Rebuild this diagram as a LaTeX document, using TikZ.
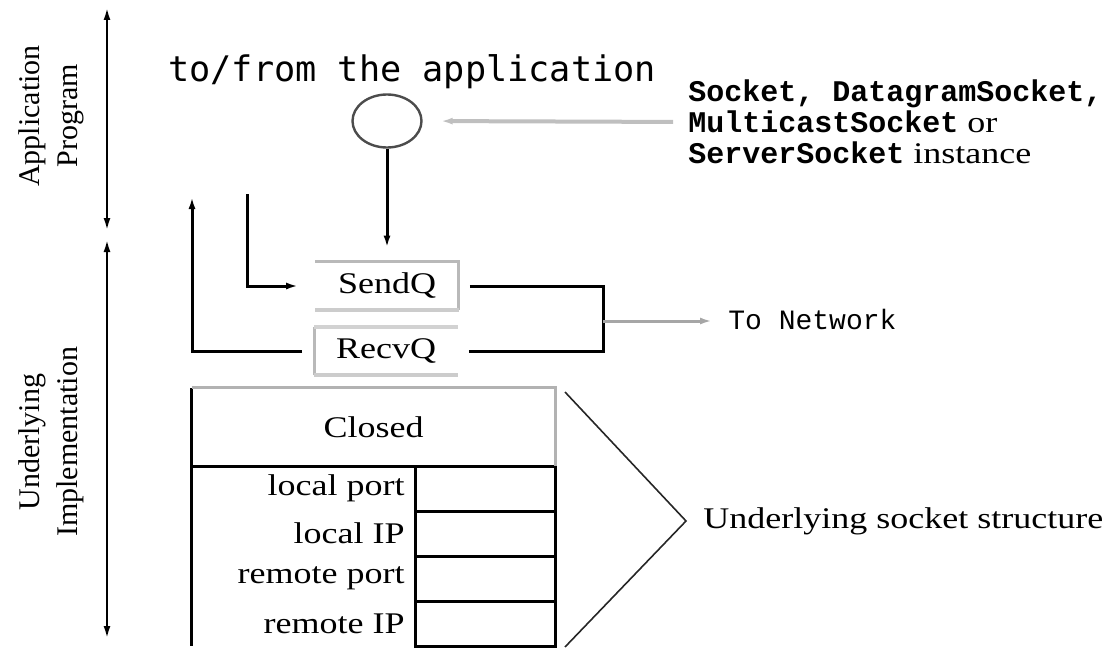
\documentclass[tikz,border=0pt]{standalone}
\usepackage{fontspec}
\setmainfont{Liberation Serif}[FakeStretch=1.2]
\setmonofont{Liberation Mono}
\newfontfamily\sidefont{Liberation Serif}
\newfontfamily\appfont{DejaVu Sans Mono}
\usetikzlibrary{arrows.meta, shapes.geometric, positioning}

\begin{document}
\begin{tikzpicture}[x=0.5pt, y=-0.5pt, >={Latex[length=6pt,width=3.5pt]},
    wire/.style={line width=1.5pt},
    qbox/.style={minimum width=71.5pt, minimum height=24pt, inner sep=0pt, font=\fontsize{15}{18}\selectfont},
    cell/.style={draw, line width=1.5pt, minimum width=70pt, minimum height=22.5pt, inner sep=0pt, outer sep=0pt},
    field/.style={inner sep=0pt, font=\fontsize{15}{18}\selectfont},
    side/.style={rotate=90, align=center, inner sep=0pt, font=\sidefont\fontsize{15}{19}\selectfont}]
      \useasboundingbox (0,0) rectangle (1117,647);

      % nodes %
      \node[side] (apptag) at (51,116) {Application\\Program};
      \node[side] (impltag) at (51,442) {Underlying\\Implementation};
      \node[anchor=base west, inner sep=0pt, font=\appfont\fontsize{17.6}{20}\selectfont] (tofrom) at (168,82) {to/from the application};
      \node[ellipse, draw=gray!60!black, line width=1.2pt, minimum width=34.5pt, minimum height=26.5pt] (app) at (387,121) {};
      \node[anchor=west, inner sep=0pt, align=left, font=\fontsize{15}{15.5}\selectfont] (sock) at (688,122)
        {{\ttfamily\bfseries Socket, DatagramSocket,}\\{\ttfamily\bfseries MulticastSocket} or\\{\ttfamily\bfseries ServerSocket} instance};
      \node[qbox] (sendq) at (387,286) {SendQ};
      \node[qbox] (recvq) at (386,351) {RecvQ};
      \node[anchor=west, inner sep=0pt, font=\ttfamily\fontsize{14}{16}\selectfont] (net) at (728,319) {To Network};

      \node[field, minimum width=181.5pt, minimum height=39pt] (closed) at (373.5,427) {Closed};
      \node[cell, anchor=north] (lportval) at (485,466) {};
      \node[cell, below=0pt of lportval] (lipval) {};
      \node[cell, below=0pt of lipval] (rportval) {};
      \node[cell, below=0pt of rportval] (ripval) {};
      \node[field, left=5pt of lportval] (lport) {local port};
      \node[field, left=5pt of lipval] (lip) {local IP};
      \node[field, left=5pt of rportval] (rport) {remote port};
      \node[field, left=5pt of ripval] (rip) {remote IP};
      \node[field, anchor=west] (sockstruct) at (703,521) {Underlying socket structure};

      \coordinate (apptop) at (107,8);
      \coordinate (appbot) at (107,230);
      \coordinate (impltop) at (107,240);
      \coordinate (implbot) at (107,638);
      \coordinate (sndfeed) at (247,194);
      \coordinate (rcvfeed) at (192,197);
      \coordinate (netjoin) at (603,321);
      \coordinate (brtop) at (565,392);
      \coordinate (brtip) at (686,521);
      \coordinate (brbot) at (565,647);

      % edges %
      \draw[<->, line width=1pt] (apptop) -- (appbot);
      \draw[<->, line width=1pt] (impltop) -- (implbot);
      \draw[->, line width=2pt, gray!50, shorten <=7.5pt, shorten >=9pt] (sock.west) -- (app.east);
      \draw[->, wire, shorten >=7pt] (app) -- (sendq);
      \draw[->, wire, shorten >=8.5pt] (sndfeed) |- (sendq.west);
      \draw[->, wire, shorten <=6pt] (recvq.west) -| (rcvfeed);
      \draw[wire, shorten <=5.5pt] (sendq.east) -| (netjoin);
      \draw[wire, shorten <=5.5pt] (recvq.east) -| (netjoin);
      \draw[->, line width=1.5pt, gray!70, shorten >=8pt] (netjoin) -- (netjoin -| net.west);

      % queue borders %
      \draw[line width=1.5pt, gray!55] (sendq.north west) -- (sendq.north east) -- (sendq.south east);
      \draw[line width=2pt, gray!40] (sendq.south west) -- (sendq.south east);
      \draw[line width=1.5pt, gray!55] (recvq.south west) -- (recvq.north west);
      \draw[line width=2pt, gray!35] (recvq.north west) -- (recvq.north east);
      \draw[line width=2pt, gray!40] (recvq.south west) -- (recvq.south east);

      % socket structure %
      \draw[wire] (closed.north west) -- (closed.south west) -- (closed.south east);
      \draw[wire, gray!60] (closed.north west) -- (closed.north east) -- (closed.south east);
      \draw[wire] (closed.south west) -- (closed.south west |- ripval.south);
      \draw[line width=0.8pt, gray!30!black] (brtop) -- (brtip) -- (brbot);
\end{tikzpicture}
\end{document}
